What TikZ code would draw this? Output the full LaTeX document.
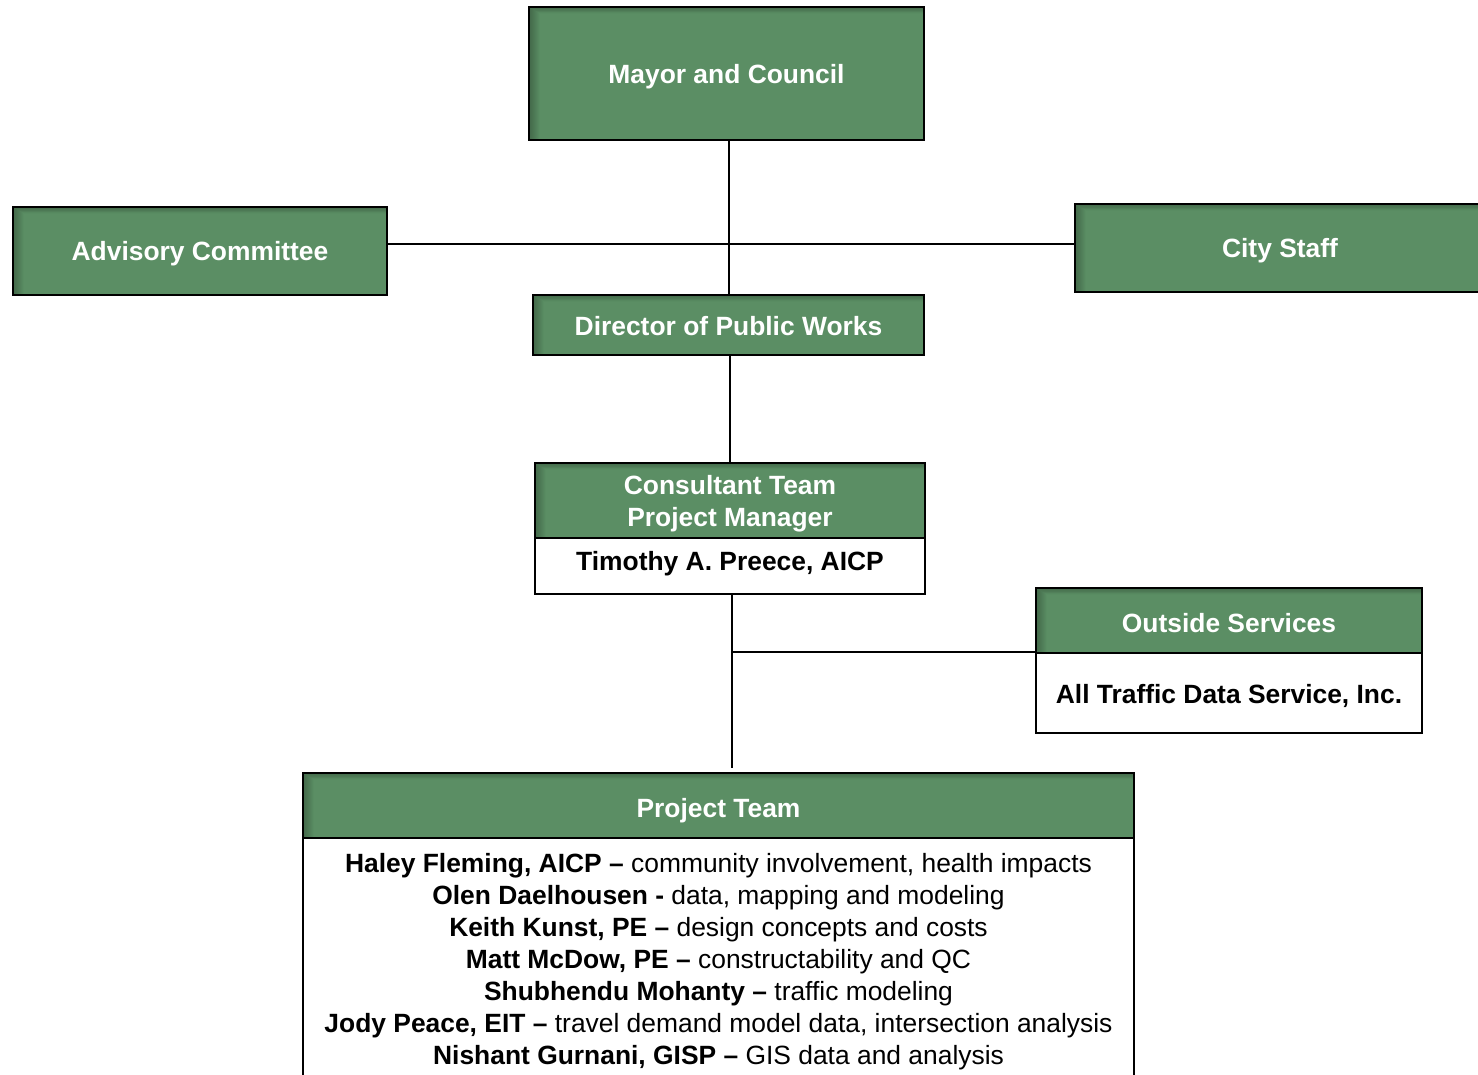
\documentclass[tikz,border=0pt]{standalone}
\usepackage{fontspec}
\setmainfont{Liberation Sans}
\definecolor{gfill}{RGB}{91,142,100}
\tikzset{
  gbox/.style={draw=black, line width=2.2pt, fill=gfill, text=white, inner sep=0pt,
    font=\fontsize{26.4}{32}\selectfont\bfseries, align=center,
    path picture={
      \foreach \i in {1,...,10}{
        \pgfmathsetmacro{\op}{0.13*(1-(\i-1)/10)}
        \draw[black, opacity=\op, line width=1.1pt]
          ([xshift=\i pt]path picture bounding box.south west) --
          ([xshift=\i pt, yshift=-0.6*\i pt]path picture bounding box.north west) --
          ([yshift=-0.6*\i pt]path picture bounding box.north east);
      }
    }},
  wbox/.style={draw=black, line width=2.2pt, fill=white, text=black, inner sep=0pt,
    font=\fontsize{26.4}{32}\selectfont\bfseries, align=center},
  oneline/.style={text height=20pt, text depth=0pt},
  conn/.style={draw=black, line width=2pt}
}
\begin{document}
\begin{tikzpicture}[x=1pt, y=-1pt]
\useasboundingbox[fill=white] (0,0) rectangle (1478,1075);

\node[gbox, oneline, minimum width=395pt, minimum height=133pt] (mayor) at (726.5,73.5) {Mayor and Council};
\node[gbox, oneline, minimum width=374pt, minimum height=88pt] (adv) at (200,251) {Advisory Committee};
\node[gbox, oneline, minimum width=410pt, minimum height=88pt] (city) at (1280,248) {City Staff};
\node[gbox, oneline, minimum width=391pt, minimum height=60pt] (dir) at (728.5,325) {Director of Public Works};

\node[gbox, minimum width=390pt, minimum height=75pt] (cons) at (730,500.5)
  {\raisebox{-9.6pt}[0pt][0pt]{\begin{tabular}{@{}c@{}}Consultant Team\\Project Manager\end{tabular}}};
\node[wbox, text height=20pt, text depth=10.2pt, minimum width=390pt, minimum height=56pt] (consbody) at (730,566) {Timothy A. Preece, AICP};

\node[gbox, text height=23.3pt, text depth=0pt, minimum width=386pt, minimum height=65pt] (out) at (1229,620.5) {Outside Services};
\node[wbox, oneline, minimum width=386pt, minimum height=80pt] (outbody) at (1229,693) {All Traffic Data Service, Inc.};

\node[gbox, text height=23.8pt, text depth=0pt, minimum width=831pt, minimum height=65pt] (team) at (718.5,805.5) {Project Team};
\node[wbox, minimum width=831pt, minimum height=260pt] (teambody) at (718.5,968) {};
\node[font=\fontsize{26.4}{32}\selectfont, align=center, inner sep=0pt] (teamtext) at (718.5,962) {%
\textbf{Haley Fleming, AICP –} community involvement, health impacts\\
\textbf{Olen Daelhousen -} data, mapping and modeling\\
\textbf{Keith Kunst, PE –} design concepts and costs\\
\textbf{Matt McDow, PE –} constructability and QC\\
\textbf{Shubhendu Mohanty –} traffic modeling\\
\textbf{Jody Peace, EIT –} travel demand model data, intersection analysis\\
\textbf{Nishant Gurnani, GISP –} GIS data and analysis};

\coordinate (hy) at (0,244);
\coordinate (vx) at (732,0);
\draw[conn] (dir.north |- mayor.south) -- (dir.north);
\draw[conn] (adv.east |- hy) -- (city.west |- hy);
\draw[conn] (cons.north |- dir.south) -- (cons.north);
\draw[conn, shorten >=4pt] (vx |- consbody.south) -- (vx |- team.north);
\draw[conn] (vx |- outbody.north) -- (outbody.north west);
\end{tikzpicture}
\end{document}
